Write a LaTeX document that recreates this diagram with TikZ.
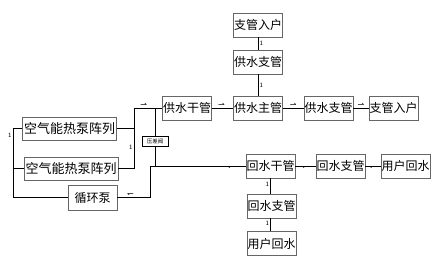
\documentclass[tikz,border=0pt]{standalone}
\usepackage{fontspec}
\setmainfont{Noto Sans CJK SC}
\newfontfamily\symfont{DejaVu Sans}
\usetikzlibrary{calc}
\tikzstyle{unit} = [
    rectangle,
    minimum width=49pt,
    minimum height=24pt,
    inner sep=0pt,
    draw=black!60,
    line width=0.9pt,
    font=\fontsize{12}{12}\selectfont
]
\tikzstyle{array} = [
    unit,
    minimum width=94pt,
    minimum height=23pt,
    font=\fontsize{13}{13}\selectfont
]
\tikzstyle{valvebox} = [
    rectangle,
    minimum width=26pt,
    minimum height=10pt,
    inner sep=0pt,
    draw=black,
    line width=0.5pt,
    font=\fontsize{5.5}{5.5}\selectfont
]
\tikzstyle{pipe} = [line width=0.6pt, black]
\tikzstyle{num} = [font=\sffamily\fontsize{6.5}{6.5}\selectfont, inner sep=1.2pt]
\tikzstyle{flow} = [font=\symfont\fontsize{8}{8}\selectfont, inner sep=0.5pt]

\begin{document}
\begin{tikzpicture}[x=1pt, y=-1pt]
\useasboundingbox (0,0) rectangle (436,273);

% supply side
\node (branchTop) [unit] at (258,25) {支管入户};
\node (supplyBranchUp) [unit] at (258,62) {供水支管};
\node (supplyMain) [unit] at (258,108) {供水主管};
\node (supplyTrunk) [unit] at (187,108) {供水干管};
\node (supplyBranchR) [unit] at (328.5,108) {供水支管};
\node (branchR) [unit] at (393.5,108) {支管入户};

% heat pumps
\node (pumpArrayA) [array] at (69.5,128.5) {空气能热泵阵列};
\node (pumpArrayB) [array] at (71,168.5) {空气能热泵阵列};
\node (pump) [unit, minimum height=25pt] at (92.5,197.5) {循环泵};
\node (valve) [valvebox] at (155,141.5) {压差阀};

% return side
\node (returnTrunk) [unit] at (270.5,166) {回水干管};
\node (returnBranchR) [unit] at (340.5,166) {回水支管};
\node (userReturnR) [unit] at (405.5,166) {用户回水};
\node (returnBranchDown) [unit] at (271.5,206) {回水支管};
\node (userReturnDown) [unit] at (271.5,243.5) {用户回水};

\coordinate (leftTop) at (13,128.5);
\coordinate (leftBot) at (13,197.5);
\coordinate (joinTop) at (134,108);
\coordinate (joinBot) at (134,168.5);
\coordinate (retCorner) at (150,166);

% left bus
\draw [pipe] (pumpArrayA.west) -- (leftTop) -- node [num, left, pos=0.1] {1} (leftBot) -- (pump.west);
\draw [pipe] (pumpArrayB.west) -- (pumpArrayB.west -| leftTop);

% right bus
\draw [pipe] (pumpArrayA.east) -- (pumpArrayA.east -| joinTop);
\draw [pipe] (pumpArrayB.east) -- (joinBot) -- node [num, left, pos=0.35] {1} (joinTop)
    -- node [flow, above, pos=0.35] {⇀} (supplyTrunk.west);
\draw [pipe] (valve.north) -- (valve.north |- supplyTrunk.west);
\draw [pipe] (valve.south) -- (valve.south |- returnTrunk.west);

% supply connectors
\draw [pipe] (supplyTrunk) -- node [flow, above, pos=0.45] {⇀} (supplyMain);
\draw [pipe] (supplyMain) -- node [flow, above] {⇀} (supplyBranchR);
\draw [pipe] (supplyBranchR) -- node [flow, above] {⇀} (branchR);
\draw [pipe] (supplyMain) -- node [num, right] {1} (supplyBranchUp);
\draw [pipe] (supplyBranchUp) -- node [num, right] {1} (branchTop);

% return connectors
\draw [pipe] (userReturnR) -- node [flow, below] {↽} (returnBranchR);
\draw [pipe] (returnBranchR) -- node [flow, below] {↽} (returnTrunk);
\draw [pipe] (returnTrunk.west) -- node [flow, below, pos=0.15] {↽} (retCorner)
    |- node [flow, above, pos=0.8] {↽} (pump.east);
\draw [pipe] (userReturnDown.north -| returnTrunk.south) -- node [num, left, pos=0.6] {1} (returnBranchDown.south -| returnTrunk.south);
\draw [pipe] (returnBranchDown.north -| returnTrunk.south) -- node [num, left, pos=0.6] {1} (returnTrunk.south);

\end{tikzpicture}
\end{document}
